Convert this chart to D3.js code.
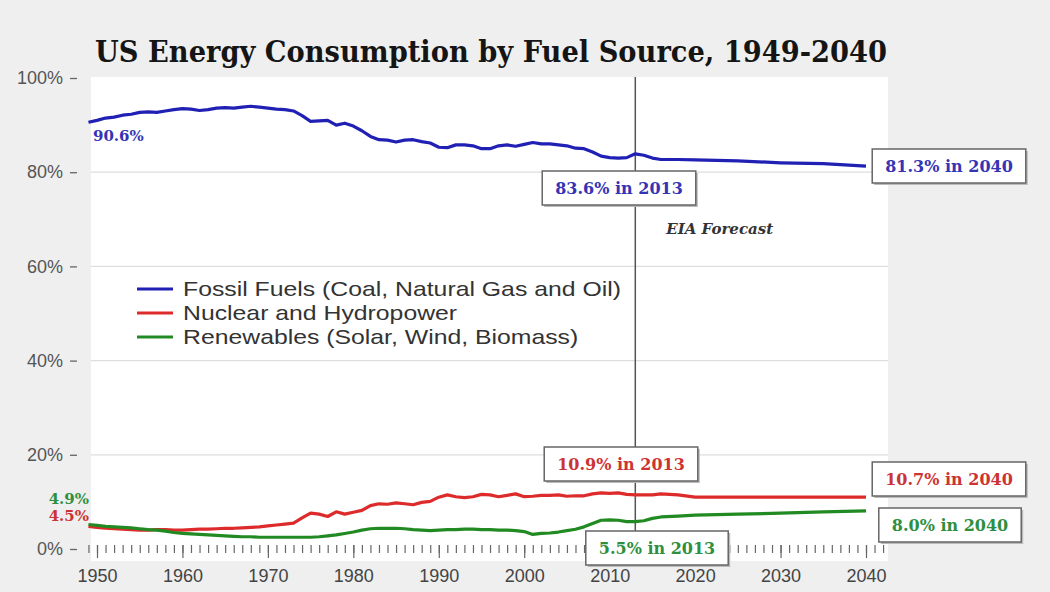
<!DOCTYPE html>
<html>
<head>
<meta charset="utf-8">
<title>US Energy Consumption by Fuel Source</title>
<style>
    body { margin: 0; background: #efefef; }
    svg { display: block; }
</style>
</head>
<body>
<svg width="1050" height="592"></svg>
<script src="https://d3js.org/d3.v7.min.js"></script>
<script>
    // years: annual to 2016, then the forecast points
    var years = d3.range(1949, 2017).concat([2018, 2020, 2025, 2030, 2035, 2040]);

    var fossil = [90.6, 91.0, 91.5, 91.7, 92.1, 92.3, 92.7, 92.8, 92.7, 93.0,
                  93.3, 93.5, 93.4, 93.1, 93.3, 93.6, 93.7, 93.6, 93.8, 94.0,
                  93.8, 93.6, 93.4, 93.3, 93.0, 92.0, 90.8, 90.9, 91.0, 90.0,
                  90.4, 89.8, 88.8, 87.6, 86.9, 86.8, 86.4, 86.8, 86.9, 86.5,
                  86.2, 85.3, 85.2, 85.8, 85.8, 85.6, 85.0, 85.0, 85.6, 85.8,
                  85.5, 85.9, 86.3, 86.0, 86.0, 85.8, 85.6, 85.1, 85.0, 84.3,
                  83.4, 83.1, 83.0, 83.1, 83.9, 83.6, 83.0, 82.7,
                  82.7, 82.6, 82.4, 82.0, 81.8, 81.3];
    var nuclearHydro = [4.8, 4.6, 4.4, 4.3, 4.2, 4.1, 4.0, 4.0, 4.1, 4.1,
                  4.0, 4.0, 4.1, 4.2, 4.2, 4.3, 4.4, 4.4, 4.5, 4.6,
                  4.7, 4.9, 5.1, 5.3, 5.5, 6.6, 7.6, 7.4, 6.9, 7.9,
                  7.4, 7.8, 8.2, 9.2, 9.6, 9.5, 9.8, 9.6, 9.4, 9.9,
                  10.1, 11.0, 11.5, 11.1, 10.9, 11.1, 11.6, 11.5, 11.1, 11.4,
                  11.7, 11.1, 11.2, 11.4, 11.4, 11.5, 11.2, 11.3, 11.3, 11.7,
                  11.9, 11.8, 11.9, 11.6, 11.5, 11.5, 11.5, 11.7,
                  11.5, 11.0, 11.0, 11.0, 11.0, 11.0];
    var renewables = [5.2, 5.0, 4.8, 4.7, 4.6, 4.5, 4.3, 4.1, 4.0, 3.8,
                  3.5, 3.3, 3.2, 3.1, 3.0, 2.9, 2.8, 2.7, 2.6, 2.6,
                  2.5, 2.5, 2.5, 2.5, 2.5, 2.5, 2.5, 2.6, 2.8, 3.0,
                  3.3, 3.6, 4.0, 4.3, 4.4, 4.4, 4.4, 4.3, 4.1, 4.0,
                  3.9, 4.0, 4.1, 4.1, 4.2, 4.2, 4.1, 4.1, 4.0, 4.0,
                  3.9, 3.7, 3.1, 3.3, 3.4, 3.6, 3.9, 4.2, 4.7, 5.4,
                  6.1, 6.2, 6.1, 5.8, 5.8, 6.0, 6.5, 6.8,
                  7.0, 7.2, 7.4, 7.6, 7.9, 8.1];

    var seriesNames = ["Fossil Fuels (Coal, Natural Gas and Oil)",
                       "Nuclear and Hydropower",
                       "Renewables (Solar, Wind, Biomass)"];
    var seriesColors = ["#2020b4", "#dd2a2a", "#228a22"];
    var labelColors = ["#3434b4", "#cc3333", "#2f8f3f"];

    var yTicks = [0, 20, 40, 60, 80, 100];
    var xTicks = [1950, 1960, 1970, 1980, 1990, 2000, 2010, 2020, 2030, 2040];

    var startLabels = ["90.6%", "4.5%", "4.9%"];
    var callouts = [
        {text: "83.6% in 2013", s: 0},
        {text: "81.3% in 2040", s: 0},
        {text: "10.9% in 2013", s: 1},
        {text: "10.7% in 2040", s: 1},
        {text: "5.5% in 2013", s: 2},
        {text: "8.0% in 2040", s: 2}
    ];

    var svg = d3.select("svg");

    var x = d3.scaleLinear().domain([1950, 2040]).range([97, 866]);
    var y = d3.scaleLinear().domain([0, 100]).range([549, 78]);

    // white plotting panel
    svg.append("rect")
        .attr("x", 91).attr("y", 77)
        .attr("width", 797).attr("height", 484)
        .attr("fill", "#fff");

    // title
    svg.append("text")
        .attr("x", 95).attr("y", 62)
        .attr("textLength", 792)
        .attr("lengthAdjust", "spacingAndGlyphs")
        .style("font", "bold 30px 'DejaVu Serif', serif")
        .attr("fill", "#151515")
        .text("US Energy Consumption by Fuel Source, 1949-2040");

    // gridlines
    svg.append("g").selectAll("line")
        .data(yTicks.filter(function(d) { return d > 0 && d < 100; }))
        .enter().append("line")
        .attr("x1", 91).attr("x2", 888)
        .attr("y1", function(d) { return y(d); })
        .attr("y2", function(d) { return y(d); })
        .attr("stroke", "#dedede")
        .attr("stroke-width", 1.2);

    // y axis
    var yAxis = svg.append("g")
        .attr("transform", "translate(77,0)")
        .call(d3.axisLeft(y).tickValues(yTicks).tickSize(7).tickPadding(7)
            .tickFormat(function(d) { return d + "%"; }));
    yAxis.select(".domain").remove();
    yAxis.selectAll("line").attr("stroke", "#666").attr("stroke-width", 1.3);
    yAxis.selectAll("text")
        .attr("fill", "#555")
        .style("font", "18px 'Liberation Sans', Arial, sans-serif");

    // x axis: minor ticks each year, longer at decades
    var xAxisMinor = svg.append("g")
        .attr("transform", "translate(0,545)")
        .call(d3.axisBottom(x).tickValues(d3.range(1949, 2043)).tickSize(8).tickFormat(""));
    xAxisMinor.select(".domain").remove();
    xAxisMinor.selectAll("line").attr("stroke", "#666").attr("stroke-width", 1.2);

    var xAxis = svg.append("g")
        .attr("transform", "translate(0,545)")
        .call(d3.axisBottom(x).tickValues(xTicks).tickSize(13).tickPadding(11)
            .tickFormat(d3.format("d")));
    xAxis.select(".domain").remove();
    xAxis.selectAll("line").attr("stroke", "#666").attr("stroke-width", 1.2);
    xAxis.selectAll("text")
        .attr("fill", "#444")
        .style("font", "18px 'Liberation Sans', Arial, sans-serif");

    // 2013 forecast divider
    svg.append("line")
        .attr("x1", x(2013)).attr("x2", x(2013))
        .attr("y1", 77).attr("y2", 549)
        .attr("stroke", "#555").attr("stroke-width", 1.5);

    svg.append("text")
        .attr("x", x(2013) + 31).attr("y", 234)
        .attr("fill", "#333")
        .style("font", "italic bold 15px 'DejaVu Serif', serif")
        .text("EIA Forecast");

    // lines
    var allSeries = [fossil, nuclearHydro, renewables];
    var line = d3.line()
        .x(function(d, i) { return x(years[i]); })
        .y(function(d) { return y(d); });

    svg.append("g").selectAll("path")
        .data(allSeries)
        .enter().append("path")
        .attr("d", line)
        .attr("fill", "none")
        .attr("stroke", function(d, i) { return seriesColors[i]; })
        .attr("stroke-width", 3.2)
        .attr("stroke-linejoin", "round");

    // legend
    var legend = svg.append("g").selectAll("g")
        .data(seriesNames)
        .enter().append("g")
        .attr("transform", function(d, i) { return "translate(137," + (289 + i * 24) + ")"; });
    legend.append("line")
        .attr("x1", 0).attr("x2", 36)
        .attr("stroke", function(d, i) { return seriesColors[i]; })
        .attr("stroke-width", 3);
    legend.append("text")
        .attr("x", 46).attr("dy", "0.35em")
        .attr("fill", "#333")
        .style("font", "21px 'Liberation Sans', Arial, sans-serif")
        .each(function(d) {
            var t = d3.select(this).text(d);
            var w = this.getComputedTextLength();
            t.attr("textLength", w * 1.18).attr("lengthAdjust", "spacingAndGlyphs");
        });

    // start-of-series labels
    var labelFont = "bold 15px 'DejaVu Serif', serif";
    svg.append("text")
        .attr("x", 93).attr("y", 141)
        .attr("fill", labelColors[0]).style("font", labelFont)
        .text(startLabels[0]);
    svg.append("text")
        .attr("x", 89).attr("y", 504).attr("text-anchor", "end")
        .attr("fill", labelColors[2]).style("font", labelFont)
        .text(startLabels[2]);
    svg.append("text")
        .attr("x", 89).attr("y", 521).attr("text-anchor", "end")
        .attr("fill", labelColors[1]).style("font", labelFont)
        .text(startLabels[1]);

    // callout boxes (centre x, centre y in px)
    var boxPos = [[619, 188], [949, 166], [621, 464], [949, 479], [657, 548], [950, 525]];
    var box = svg.append("g").selectAll("g")
        .data(callouts)
        .enter().append("g")
        .attr("transform", function(d, i) { return "translate(" + boxPos[i][0] + "," + boxPos[i][1] + ")"; });
    box.append("text")
        .attr("text-anchor", "middle").attr("dy", "0.35em")
        .attr("fill", function(d) { return labelColors[d.s]; })
        .style("font", "bold 16px 'DejaVu Serif', serif")
        .text(function(d) { return d.text; })
        .each(function() {
            var bb = this.getBBox();
            var w = bb.width + 26, h = 34;
            var g = d3.select(this.parentNode);
            g.insert("rect", "text")
                .attr("x", -w / 2 + 2).attr("y", -h / 2 + 2)
                .attr("width", w).attr("height", h)
                .attr("fill", "#bbb");
            g.insert("rect", "text")
                .attr("x", -w / 2).attr("y", -h / 2)
                .attr("width", w).attr("height", h)
                .attr("fill", "#fff")
                .attr("stroke", "#666").attr("stroke-width", 1.5);
        });
</script>
</body>
</html>
